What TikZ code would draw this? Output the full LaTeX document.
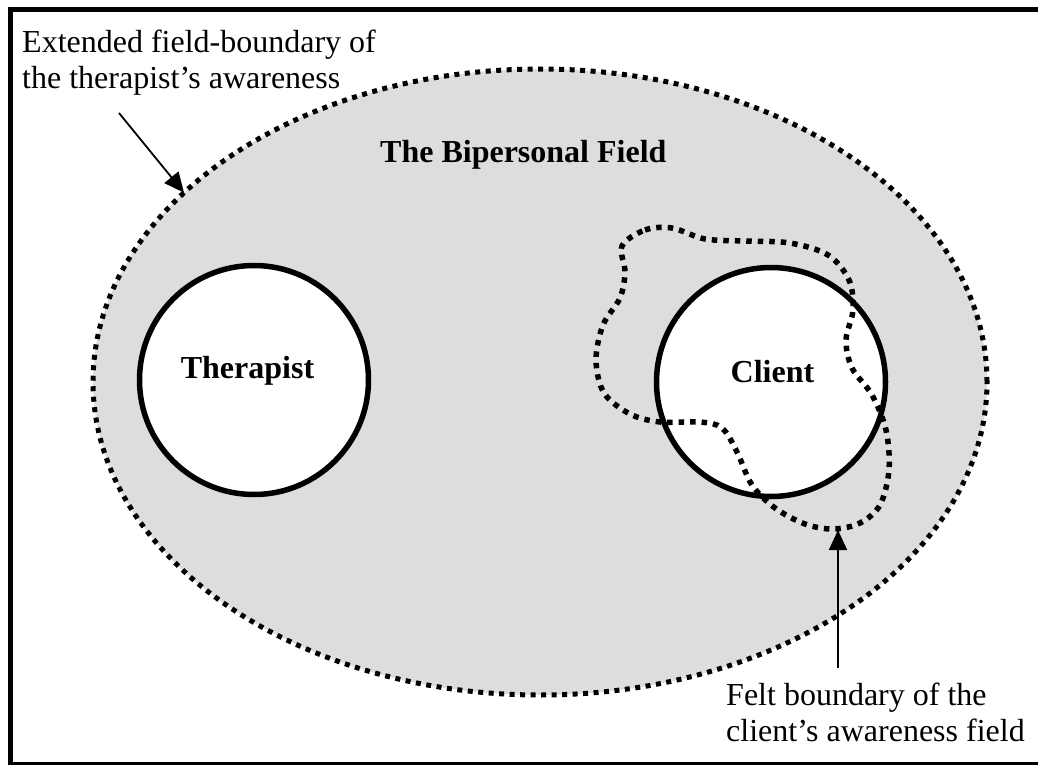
\documentclass[tikz,border=0pt]{standalone}
\usepackage{fontspec}
\setmainfont{Liberation Serif}
\usepackage{tikz}
\usetikzlibrary{arrows.meta, shapes.geometric}
\usepackage{xcolor}
\definecolor{fieldGray}{RGB}{221, 221, 221}

\begin{document}
\begin{tikzpicture}[
  x=1pt, y=-1pt,
  plain/.style={font=\fontsize{32}{35.5}\selectfont, inner sep=0pt, align=left},
  title/.style={plain, font=\fontsize{32}{35.5}\selectfont\bfseries},
  person/.style={circle, draw, line width=5.5pt, fill=white, minimum size=229pt, inner sep=0pt},
  dots/.style={line width=5pt, dash pattern=on 5pt off 5.5pt},
  pointer/.style={-{Triangle[length=20pt, width=18pt]}, line width=1.8pt}
]
  \useasboundingbox (0,0) rectangle (1038,765);
  % Frame
  \draw[line width=5pt] (10.5,9.5) rectangle (1050,764.5);
  % Bipersonal field
  \node[ellipse, draw, dots, fill=fieldGray, minimum width=894pt, minimum height=626pt,
        inner sep=0pt, outer sep=0pt] (field) at (540,382) {};
  \node[title, anchor=base west] (fieldLbl) at (380,162) {The Bipersonal Field};
  % The two persons
  \node[person] (therapist) at (254,380) {};
  \node[person] (client) at (771,382) {};
  \node[title, anchor=base] (therapistLbl) at (247.5,378) {Therapist};
  \node[title, anchor=base] (clientLbl) at (772.5,382) {Client};
  % Felt boundary of the client
  \draw[dots, line width=5.5pt, dash pattern=on 5.5pt off 6pt]
    plot[smooth cycle, tension=0.55] coordinates {
      (622,246) (645,230) (672,228) (705,239) (745,241) (790,243) (828,255)
      (849,280) (853,310) (846,340) (852,368) (872,395) (886,430) (889,470)
      (880,505) (860,523) (833,529) (805,524) (775,508) (752,485) (737,452)
      (722,428) (700,422) (660,422) (630,414) (604,393) (596,360) (603,325)
      (620,298) (625,272)};
  % Annotations
  \node[plain, anchor=north west] (extLbl) at (22,30)
    {Extended field-boundary of\\the therapist’s awareness};
  \node[plain, anchor=north west] (feltLbl) at (726,683)
    {Felt boundary of the\\client’s awareness field};
  \coordinate (extTail) at (119,113);
  \coordinate (feltTail) at (838,668);
  \coordinate (feltTip) at (838,530);
  \draw[pointer] (extTail) -- (field.152);
  \draw[pointer] (feltTail) -- (feltTip);
\end{tikzpicture}
\end{document}
